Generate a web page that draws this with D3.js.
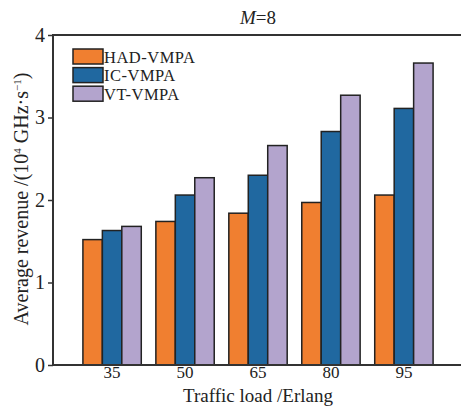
<!DOCTYPE html>
<html>
<head>
<meta charset="utf-8">
<script src="https://cdn.jsdelivr.net/npm/d3@7"></script>
<style>
  body { margin: 0; background: #fff; }
  text { font-family: "Liberation Serif", "Times New Roman", serif; fill: #222; }
</style>
</head>
<body>
<svg id="chart" width="461" height="406"></svg>
<script>
const loads = ['35', '50', '65', '80', '95'];
const series = ['HAD-VMPA', 'IC-VMPA', 'VT-VMPA'];
const hadValues = [1.52, 1.74, 1.84, 1.97, 2.06];
const icValues = [1.63, 2.06, 2.30, 2.83, 3.11];
const vtValues = [1.68, 2.27, 2.66, 3.27, 3.66];
const yTicks = [0, 1, 2, 3, 4];

const colors = ['#f07f30', '#2068a0', '#b3a4cd'];
const valuesBySeries = [hadValues, icValues, vtValues];

const svg = d3.select('#chart');
const plotLeft = 53, plotRight = 463, plotTop = 35, plotBottom = 365;

const x = d3.scaleBand()
  .domain(loads)
  .range([plotLeft, plotRight])
  .paddingInner(0.2)
  .paddingOuter(0.41);

const xSub = d3.scaleBand()
  .domain(series)
  .range([0, x.bandwidth()]);

const y = d3.scaleLinear()
  .domain([0, 4])
  .range([plotBottom, plotTop]);

// bars
const groups = svg.append('g')
  .selectAll('g')
  .data(loads)
  .join('g')
  .attr('transform', d => `translate(${x(d)},0)`);

groups.selectAll('rect')
  .data((d, i) => series.map((s, j) => ({ s, color: colors[j], v: valuesBySeries[j][i] })))
  .join('rect')
  .attr('x', d => xSub(d.s))
  .attr('y', d => y(d.v))
  .attr('width', xSub.bandwidth())
  .attr('height', d => plotBottom - y(d.v))
  .attr('fill', d => d.color)
  .attr('stroke', '#222')
  .attr('stroke-width', 1.5);

// frame (left, top, bottom)
svg.append('path')
  .attr('d', `M${plotRight},${plotTop}H${plotLeft}V${plotBottom}H${plotRight}`)
  .attr('fill', 'none')
  .attr('stroke', '#333')
  .attr('stroke-width', 2);

// y axis
const yAxis = svg.append('g')
  .attr('transform', `translate(${plotLeft},0)`)
  .call(d3.axisLeft(y).tickValues(yTicks).tickSize(5).tickPadding(3).tickFormat(d3.format('d')));
yAxis.select('.domain').remove();
yAxis.selectAll('line').attr('stroke', '#333').attr('stroke-width', 1.5);
yAxis.selectAll('text')
  .style('font-family', '"Liberation Serif", serif')
  .style('font-size', '20px')
  .attr('fill', '#222');

// x axis labels
const xAxis = svg.append('g')
  .attr('transform', `translate(0,${plotBottom})`)
  .call(d3.axisBottom(x).tickSize(0).tickPadding(1));
xAxis.select('.domain').remove();
xAxis.selectAll('text')
  .style('font-family', '"Liberation Serif", serif')
  .style('font-size', '17px')
  .attr('fill', '#222');

// axis titles
svg.append('text')
  .attr('x', (plotLeft + plotRight) / 2)
  .attr('y', 402)
  .attr('text-anchor', 'middle')
  .style('font-size', '19px')
  .text('Traffic load /Erlang');

const yTitle = svg.append('text')
  .attr('transform', `translate(28,${(plotTop + plotBottom) / 2 - 1}) rotate(-90)`)
  .attr('text-anchor', 'middle')
  .style('font-size', '20px');
yTitle.append('tspan').text('Average revenue /(10');
yTitle.append('tspan').attr('dy', -7).style('font-size', '11px').text('4');
yTitle.append('tspan').attr('dy', 7).text(' GHz·s');
yTitle.append('tspan').attr('dy', -7).style('font-size', '11px').text('−1');
yTitle.append('tspan').attr('dy', 7).text(')');

// title
const title = svg.append('text')
  .attr('x', (plotLeft + plotRight) / 2)
  .attr('y', 24)
  .attr('text-anchor', 'middle')
  .style('font-size', '19px');
title.append('tspan').style('font-style', 'italic').text('M');
title.append('tspan').text('=8');

// legend
const legend = svg.append('g')
  .attr('transform', 'translate(73,49)')
  .selectAll('g')
  .data(series)
  .join('g')
  .attr('transform', (d, i) => `translate(0,${i * 18.6})`);

legend.append('rect')
  .attr('width', 30)
  .attr('height', 15)
  .attr('fill', (d, i) => colors[i])
  .attr('stroke', '#222')
  .attr('stroke-width', 1.5);

legend.append('text')
  .attr('x', 31)
  .attr('y', 13.5)
  .style('font-size', '16.5px')
  .style('letter-spacing', '0.5px')
  .text(d => d);
</script>
</body>
</html>
